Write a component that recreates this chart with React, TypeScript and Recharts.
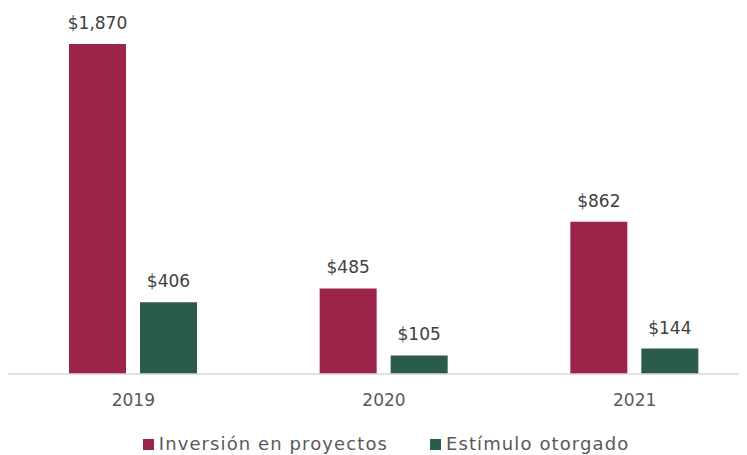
import { Bar, BarChart, LabelList, Legend, XAxis, YAxis } from "recharts";

const years = ["2019", "2020", "2021"];
const inversion = [1870, 485, 862];
const estimulo = [406, 105, 144];

const INV_COLOR = "#9D2449";
const EST_COLOR = "#2B5B4C";
const FONT = "'DejaVu Sans', sans-serif";

const data = years.map((year, i) => ({
  year,
  inversion: inversion[i],
  estimulo: estimulo[i],
}));

const fmt = (v: any) => `$${Number(v).toLocaleString("en-US")}`;

function LegendContent() {
  const items = [
    { name: "Inversión en proyectos", color: INV_COLOR },
    { name: "Estímulo otorgado", color: EST_COLOR },
  ];
  return (
    <div
      style={{
        display: "flex",
        justifyContent: "center",
        gap: 42,
        fontFamily: FONT,
        fontSize: 18,
        letterSpacing: 1.1,
        color: "#595959",
        height: 22,
        lineHeight: "22px",
        paddingLeft: 4,
      }}
    >
      {items.map((it) => (
        <div key={it.name} style={{ display: "flex", alignItems: "center" }}>
          <span
            style={{
              display: "inline-block",
              width: 11,
              height: 11,
              background: it.color,
              marginRight: 5,
            }}
          />
          {it.name}
        </div>
      ))}
    </div>
  );
}

export default function App() {
  return (
    <div style={{ width: 739, height: 447, overflow: "hidden" }}>
      <BarChart
        width={752}
        height={447}
        data={data}
        margin={{ top: 13, right: 0, left: 0, bottom: 29 }}
        barSize={57}
        barGap={14}
      >
        <XAxis
          dataKey="year"
          height={30}
          axisLine={{ stroke: "#d9d9d9", strokeWidth: 1.5 }}
          tickLine={false}
          tickMargin={14}
          tick={{ fontSize: 17, fill: "#595959", fontFamily: FONT }}
        />
        <YAxis hide domain={[0, 2000]} />
        <Legend
          verticalAlign="bottom"
          height={22}
          content={<LegendContent />}
          wrapperStyle={{ bottom: 0, left: 0, width: 752 }}
        />
        <Bar dataKey="inversion" name="Inversión en proyectos" fill={INV_COLOR} isAnimationActive={false}>
          <LabelList
            dataKey="inversion"
            position="top"
            offset={15}
            formatter={fmt}
            style={{ fontSize: 17, fill: "#404040", fontFamily: FONT }}
          />
        </Bar>
        <Bar dataKey="estimulo" name="Estímulo otorgado" fill={EST_COLOR} isAnimationActive={false}>
          <LabelList
            dataKey="estimulo"
            position="top"
            offset={15}
            formatter={fmt}
            style={{ fontSize: 17, fill: "#404040", fontFamily: FONT }}
          />
        </Bar>
      </BarChart>
    </div>
  );
}
